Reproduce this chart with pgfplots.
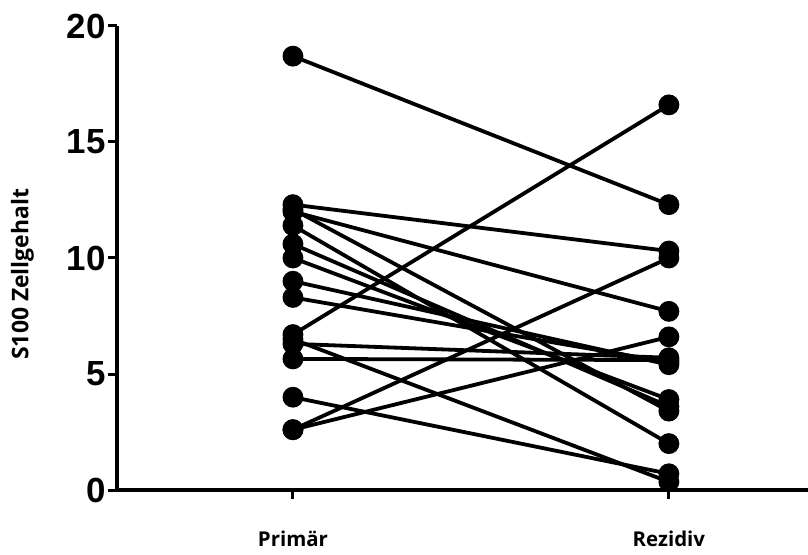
\documentclass[border=0pt]{standalone}
\usepackage{pgfplots}
\pgfplotsset{compat=1.18}
\usepackage{fontspec}
\setmainfont{Liberation Sans}
\newfontfamily\labelfont{Open Sans}
\pgfplotsset{pair/.style={black, line width=3.8bp, mark=*, mark size=8.5bp, mark options={fill=black, solid}}}
\begin{document}
\begin{tikzpicture}
\begin{axis}[
    scale only axis,
    width=691bp, height=464bp,
    xmin=-0.468, xmax=1.37,
    ymin=0, ymax=20,
    axis x line*=bottom, axis y line*=left,
    axis line style={line width=3.5bp, black},
    tick style={line width=3bp, black},
    major tick length=9bp,
    tick align=outside,
    xtick={0,1}, xticklabels={Primär,Rezidiv},
    ytick={0,5,10,15,20},
    /pgf/number format/assume math mode=true,
    y tick label style={font=\fontsize{35}{35}\selectfont\bfseries, xshift=1bp},
    x tick label style={font=\labelfont\bfseries\fontsize{20.5}{20.5}\selectfont, yshift=-28bp},
    ylabel={S100 Zellgehalt},
    every axis y label/.style={at={(axis description cs:-0.137,0.465)}, rotate=90, anchor=center,
        font=\labelfont\bfseries\fontsize{23}{23}\selectfont},
    clip=false,
]
\addplot[pair] coordinates {(0,18.7) (1,12.3)};
\addplot[pair] coordinates {(0,12.3) (1,10.3)};
\addplot[pair] coordinates {(0,12.1) (1,3.4)};
\addplot[pair] coordinates {(0,12.0) (1,7.7)};
\addplot[pair] coordinates {(0,11.4) (1,2.0)};
\addplot[pair] coordinates {(0,10.6) (1,3.6)};
\addplot[pair] coordinates {(0,10.0) (1,3.9)};
\addplot[pair] coordinates {(0,9.0) (1,5.4)};
\addplot[pair] coordinates {(0,8.3) (1,5.5)};
\addplot[pair] coordinates {(0,6.7) (1,16.6)};
\addplot[pair] coordinates {(0,6.5) (1,0.35)};
\addplot[pair] coordinates {(0,6.3) (1,5.7)};
\addplot[pair] coordinates {(0,5.65) (1,5.6)};
\addplot[pair] coordinates {(0,4.0) (1,0.7)};
\addplot[pair] coordinates {(0,2.6) (1,10.0)};
\addplot[pair] coordinates {(0,2.6) (1,6.6)};
\end{axis}
\pgfresetboundingbox
\path ([shift={(-117bp,-65bp)}]current axis.south west) rectangle ([shift={(0bp,26bp)}]current axis.north east);
\end{tikzpicture}
\end{document}
